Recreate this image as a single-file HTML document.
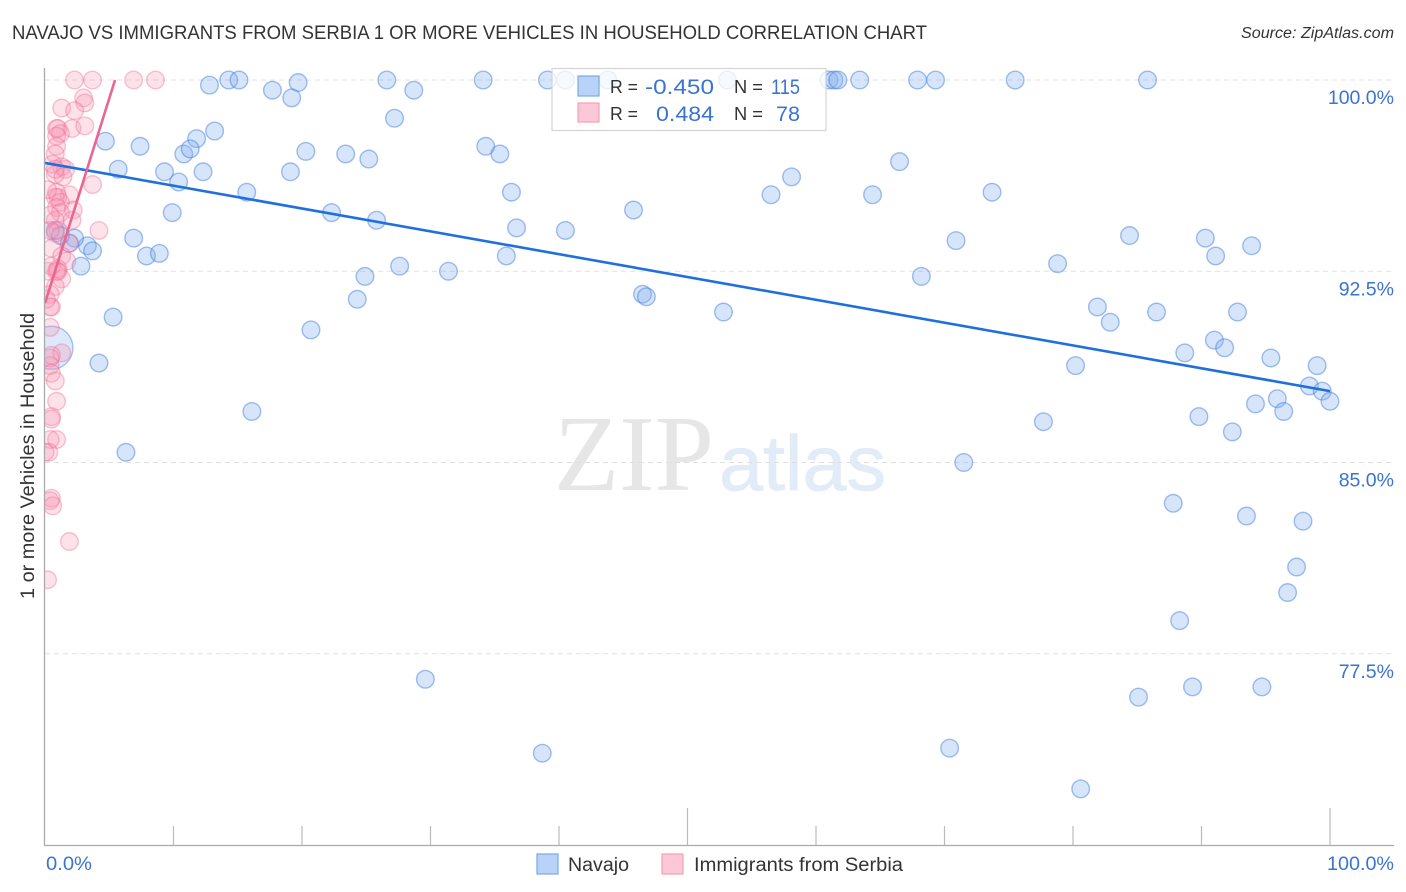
<!DOCTYPE html>
<html lang="en">
<head>
<meta charset="utf-8">
<title>Navajo vs Immigrants from Serbia Correlation Chart</title>
<style>
html,body{margin:0;padding:0;background:#fff;}
svg{display:block;font-family:"Liberation Sans",Arial,sans-serif;}
</style>
</head>
<body>
<svg id="chart" xmlns="http://www.w3.org/2000/svg" width="1406" height="892" viewBox="0 0 1406 892">
  <defs>
    <clipPath id="plot-clip"><rect x="45" y="60" width="1349" height="785"/></clipPath>
  </defs>
  <rect x="0" y="0" width="1406" height="892" fill="#fff"/>
  <text x="12" y="39" font-size="19.5" fill="#333" textLength="915" lengthAdjust="spacingAndGlyphs">NAVAJO VS IMMIGRANTS FROM SERBIA 1 OR MORE VEHICLES IN HOUSEHOLD CORRELATION CHART</text>
  <text x="1241" y="38" font-size="15.5" font-style="italic" fill="#333" textLength="153" lengthAdjust="spacingAndGlyphs">Source: ZipAtlas.com</text>

  <g>
    <text x="554" y="490" font-family="'Liberation Serif',serif" font-size="108" fill="#e6e6e6" textLength="160" lengthAdjust="spacingAndGlyphs">ZIP</text>
    <text x="719" y="490" font-family="'Liberation Sans',sans-serif" font-size="78" fill="#e2ebf8" stroke="#e2ebf8" stroke-width="0.8" textLength="167" lengthAdjust="spacingAndGlyphs">atlas</text>
  </g>

  <g id="grid"></g>
  <g id="series" clip-path="url(#plot-clip)"></g>
  <g id="axes"></g>

  <text x="0" y="0" transform="translate(34,456) rotate(-90)" font-size="19" fill="#333" text-anchor="middle" textLength="286" lengthAdjust="spacingAndGlyphs">1 or more Vehicles in Household</text>

  <g>
    <rect x="552" y="68.5" width="274" height="62" fill="#fff" fill-opacity="0.78" stroke="#d4d4d4" stroke-width="1.2"/>
    <rect x="578" y="76" width="21" height="20" fill="#b8d3f7" stroke="#7aa9e6" stroke-width="1.2"/>
    <rect x="578" y="103" width="21" height="19" fill="#fcc8d8" stroke="#f2a0b9" stroke-width="1.2"/>
    <text x="610" y="93" font-size="18.5" fill="#333" textLength="28" lengthAdjust="spacingAndGlyphs">R =</text>
    <text x="645" y="94" font-size="21.5" fill="#3b73d1" textLength="69" lengthAdjust="spacingAndGlyphs">-0.450</text>
    <text x="734" y="93" font-size="18.5" fill="#333" textLength="29" lengthAdjust="spacingAndGlyphs">N =</text>
    <text x="771" y="94" font-size="21.5" fill="#3b73d1" textLength="29" lengthAdjust="spacingAndGlyphs">115</text>
    <text x="610" y="120" font-size="18.5" fill="#333" textLength="28" lengthAdjust="spacingAndGlyphs">R =</text>
    <text x="656" y="121" font-size="21.5" fill="#3b73d1" textLength="58" lengthAdjust="spacingAndGlyphs">0.484</text>
    <text x="734" y="120" font-size="18.5" fill="#333" textLength="29" lengthAdjust="spacingAndGlyphs">N =</text>
    <text x="776" y="121" font-size="21.5" fill="#3b73d1" textLength="24" lengthAdjust="spacingAndGlyphs">78</text>
  </g>

  <g>
    <rect x="537" y="854" width="21" height="20" fill="#b8d3f7" stroke="#7aa9e6" stroke-width="1.2"/>
    <text x="568" y="871" font-size="19" fill="#333" textLength="61" lengthAdjust="spacingAndGlyphs">Navajo</text>
    <rect x="662" y="854" width="21" height="20" fill="#fcc8d8" stroke="#f2a0b9" stroke-width="1.2"/>
    <text x="694" y="871" font-size="19" fill="#333" textLength="209" lengthAdjust="spacingAndGlyphs">Immigrants from Serbia</text>
  </g>
</svg>

<script>
const yTickValues = [100, 92.5, 85, 77.5];
const yTickLabels = ['100.0%', '92.5%', '85.0%', '77.5%'];
const xTickValues = [10, 20, 30, 40, 50, 60, 70, 80, 90, 100];
const xMajorTicks = [50, 100];
const xEdgeValues = [0, 100];
const xEdgeLabels = ['0.0%', '100.0%'];

const navajoX = [14.3, 15.1, 19.7, 26.6, 34.1, 39.1, 40.5, 43.8, 53.1, 61.0, 61.4, 61.7, 63.4, 67.9, 69.3, 75.5, 85.8,
  12.8, 17.7, 19.2, 28.7, 27.2, 13.2, 11.8, 10.8, 11.3, 4.7, 7.4, 20.3, 23.4, 25.2, 34.3, 35.4,
  5.7, 9.3, 10.4, 12.3, 19.1, 15.7, 36.3, 56.5, 58.1, 66.5, 64.4, 73.7, 9.9, 22.3, 25.8, 45.8,
  36.7, 40.5, 6.9, 7.9, 8.9, 3.3, 3.7, 2.8, 2.3, 1.9, 0.8, 1.2, 35.9, 27.6, 24.9, 31.4, 24.3,
  20.7, 46.5, 46.8, 52.8, 68.2, 70.9, 78.8, 84.4, 90.3, 91.1, 93.9, 81.9, 82.9, 86.5, 92.8,
  88.7, 91.0, 91.8, 95.4, 99.0, 80.2, 77.7, 89.8, 92.4, 94.2, 95.9, 96.4, 98.4, 99.4, 100,
  71.5, 5.3, 4.2, 16.1, 6.3, 87.8, 93.5, 97.9, 97.4, 96.7, 88.3, 29.6, 85.1, 89.3, 94.7, 70.4, 38.7, 80.6];
const navajoY = [100, 100, 99.9, 100, 100, 100, 100, 100, 100, 100, 100, 100, 100, 100, 100, 100, 100,
  99.8, 99.6, 99.3, 99.6, 98.5, 98.0, 97.7, 97.1, 97.3, 97.6, 97.4, 97.2, 97.1, 96.9, 97.4, 97.1,
  96.5, 96.4, 96.0, 96.4, 96.4, 95.6, 95.6, 95.5, 96.2, 96.8, 95.5, 95.6, 94.8, 94.8, 94.5, 94.9,
  94.2, 94.1, 93.8, 93.1, 93.2, 93.5, 93.3, 92.7, 93.8, 93.6, 94.1, 93.9, 93.1, 92.7, 92.3, 92.5, 91.4,
  90.2, 91.6, 91.5, 90.9, 92.3, 93.7, 92.8, 93.9, 93.8, 93.1, 93.5, 91.1, 90.5, 90.9, 90.9,
  89.3, 89.8, 89.5, 89.1, 88.8, 88.8, 86.6, 86.8, 86.2, 87.3, 87.5, 87.0, 88.0, 87.8, 87.4,
  85.0, 90.7, 88.9, 87.0, 85.4, 83.4, 82.9, 82.7, 80.9, 79.9, 78.8, 76.5, 75.8, 76.2, 76.2, 73.8, 73.6, 72.2];

const navajoLargeX = [0.5];
const navajoLargeY = [89.5];

const serbiaX = [2.3, 3.7, 6.9, 8.6, 3.0, 3.1, 1.3, 2.3, 2.1, 3.1, 0.9, 1.0, 1.2, 0.9, 0.9, 0.8,
  0.6, 1.3, 1.6, 0.8, 1.4, 3.7, 1.9, 0.9, 1.0, 0.8, 1.2, 0.9, 2.2, 1.2, 2.1, 0.8, 4.2, 1.0, 0.8,
  1.9, 0.5, 1.3, 1.7, 1.0, 1.3, 0.8, 0.4, 0.5, 0.4, 0.4, 1.3, 0.4, 0.4, 0.5, 0.8, 0.9, 0.5, 0.5,
  0.9, 0.4, 0.3, 0, 0.5, 0.4, 0.6, 1.9, 0.2, 0.2, 0.4, 0.1, 0.5, 0.2, 1.0, 0.8, 0.4, 0.5, 0.9];
const serbiaY = [100, 100, 100, 100, 99.3, 99.1, 98.9, 98.8, 98.1, 98.2, 98.1, 98.1, 97.9, 97.8, 97.4, 97.1,
  96.7, 96.6, 96.5, 96.3, 96.2, 95.9, 95.5, 95.6, 95.4, 95.4, 95.2, 95.0, 94.9, 94.8, 94.5, 94.5, 94.1, 94.1, 94.0,
  93.6, 93.4, 93.1, 92.9, 92.5, 92.2, 91.9, 91.6, 91.1, 91.1, 90.3, 89.3, 89.1, 88.8, 88.5, 88.2, 87.4, 86.8, 86.7,
  85.9, 85.9, 85.4, 85.4, 83.6, 83.5, 83.3, 81.9, 80.4, 95.7, 94.7, 91.4, 89.2, 92.5, 92.6, 96.5, 94.1, 92.7, 92.5];

const navajoTrendX = [0, 100];
const navajoTrendY = [96.75, 87.8];
const serbiaTrendX = [0, 5.45];
const serbiaTrendY = [91.25, 100];

const SVGNS = 'http://www.w3.org/2000/svg';
const xScale = v => 45 + (v / 100) * 1285;
const yScale = v => 80 + (100 - v) * 25.5;

function make(tag, attrs, parent) {
  const el = document.createElementNS(SVGNS, tag);
  for (const k in attrs) el.setAttribute(k, attrs[k]);
  parent.appendChild(el);
  return el;
}

const gridG = document.getElementById('grid');
const seriesG = document.getElementById('series');
const axesG = document.getElementById('axes');

yTickValues.forEach((v, i) => {
  const line = make('line', {x1: 45, x2: 1394, y1: yScale(v), y2: yScale(v), stroke: '#e0e0e0', 'stroke-width': 1, 'stroke-dasharray': '5 4'}, gridG);
  
  
  const label = make('text', {x: 1394, y: yScale(v) + 24, 'font-size': 19.5, fill: '#3b73d1', 'text-anchor': 'end'}, axesG);
  label.textContent = yTickLabels[i];
  
  
});

function drawPoints(xs, ys, r, fill, stroke, name) {
  xs.forEach((x, i) => {
    const c = make('circle', {cx: xScale(x), cy: yScale(ys[i]), r: r, fill: fill, stroke: stroke, 'stroke-width': 1.4}, seriesG);
    
    
  });
}

drawPoints(navajoLargeX, navajoLargeY, 21.5, 'rgba(120,165,235,0.25)', 'rgba(70,130,225,0.45)', 'navajo-large-point');
drawPoints(navajoX, navajoY, 8.8, 'rgba(130,175,240,0.32)', 'rgba(60,125,220,0.48)', 'navajo-point');
drawPoints(serbiaX, serbiaY, 8.8, 'rgba(248,150,180,0.28)', 'rgba(238,110,150,0.4)', 'serbia-point');

const navajoTrend = make('line', {x1: xScale(navajoTrendX[0]), y1: yScale(navajoTrendY[0]), x2: xScale(navajoTrendX[1]), y2: yScale(navajoTrendY[1]), stroke: '#1f6fdc', 'stroke-width': 2.6}, seriesG);


const serbiaTrend = make('line', {x1: xScale(serbiaTrendX[0]), y1: yScale(serbiaTrendY[0]), x2: xScale(serbiaTrendX[1]), y2: yScale(serbiaTrendY[1]), stroke: '#ec6590', 'stroke-width': 2.6}, seriesG);



const yAxis = make('line', {x1: 44.5, x2: 44.5, y1: 68, y2: 845, stroke: '#aaa', 'stroke-width': 1.3}, axesG);


const xAxis = make('line', {x1: 44, x2: 1394, y1: 845.5, y2: 845.5, stroke: '#aaa', 'stroke-width': 1.3}, axesG);



xTickValues.forEach(v => {
  const top = xMajorTicks.includes(v) ? 808 : 826;
  const tick = make('line', {x1: xScale(v), x2: xScale(v), y1: top, y2: 845, stroke: '#bbb', 'stroke-width': 1.2}, axesG);
  
  
});

xEdgeValues.forEach((v, i) => {
  const label = make('text', {x: i === 0 ? 46 : 1327, y: 870, 'font-size': 19.5, fill: '#3b73d1', textLength: i === 0 ? 46 : 67, lengthAdjust: 'spacingAndGlyphs'}, axesG);
  label.textContent = xEdgeLabels[i];
  
  
});
</script>
</body>
</html>
